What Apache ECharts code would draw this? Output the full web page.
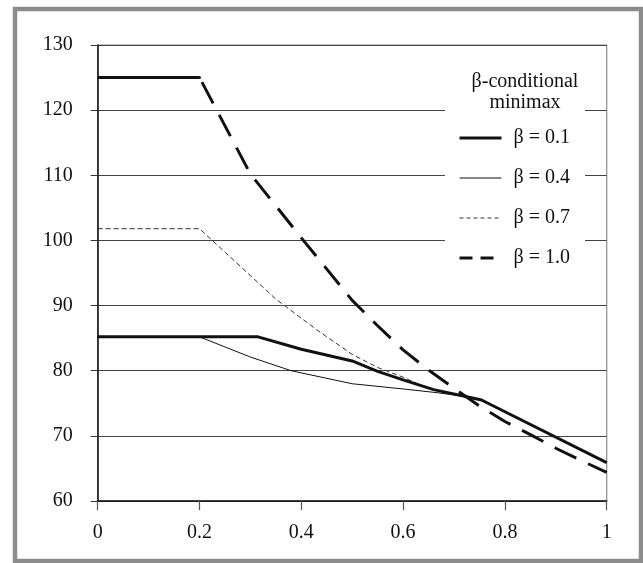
<!DOCTYPE html>
<html>
<head>
<meta charset="utf-8">
<script src="https://cdn.jsdelivr.net/npm/echarts@6/dist/echarts.min.js"></script>
<style>
html,body{margin:0;padding:0;background:#fff;}
#c{width:643px;height:563px;}
</style>
</head>
<body>
<div id="c"></div>
<script>
var seriesNames = ['β = 0.1', 'β = 0.4', 'β = 0.7', 'β = 1.0'];
var xTicks = [0, 0.2, 0.4, 0.6, 0.8, 1];
var yTicks = [60, 70, 80, 90, 100, 110, 120, 130];

var b01x = [0, 0.315, 0.4, 0.5, 0.55, 0.6, 0.66, 0.725, 0.754, 1];
var b01y = [85.2, 85.2, 83.3, 81.5, 79.9, 78.6, 77.1, 76.0, 75.5, 65.9];

var b04x = [0, 0.2, 0.3, 0.38, 0.5, 0.6, 0.67, 0.725, 0.754, 1];
var b04y = [85.2, 85.2, 82.1, 80.0, 78.0, 77.2, 76.6, 76.0, 75.5, 65.9];

var b07x = [0, 0.2, 0.35, 0.43, 0.5, 0.55, 0.6, 0.64, 0.66, 0.725, 0.754, 1];
var b07y = [101.8, 101.8, 91.0, 86.3, 82.5, 80.5, 79.0, 77.6, 77.1, 76.0, 75.5, 65.9];

var b10x = [0, 0.2, 0.3, 0.4, 0.5, 0.55, 0.6, 0.65, 0.7, 0.75, 0.8, 0.85, 0.9, 0.95, 1];
var b10y = [125, 125, 110.2, 100.4, 90.8, 86.9, 83.2, 80.1, 77.3, 74.6, 72.2, 70.2, 68.1, 66.2, 64.4];

function zip(xs, ys) { return xs.map(function (x, i) { return [x, ys[i]]; }); }

// dash pattern for the β = 1.0 curve: solid plateau, then long dashes
var longDash = [103, 4];
for (var k = 0; k < 20; k++) { longDash.push(24, 13); }

var FONT = 'Liberation Serif, Times New Roman, serif';
var chart = echarts.init(document.getElementById('c'), null, {renderer: 'canvas'});
chart.setOption({
  backgroundColor: '#fff',
  animation: false,
  grid: {left: 97.7, right: 36.3, top: 45, bottom: 62, show: true, borderColor: '#8a8a8a', borderWidth: 1.2},
  xAxis: {
    type: 'value', min: xTicks[0], max: xTicks[xTicks.length - 1], interval: 0.2,
    axisLine: {lineStyle: {color: '#111', width: 1.5}},
    axisTick: {show: true, length: 9, lineStyle: {color: '#555', width: 1.2}},
    splitLine: {show: false},
    axisLabel: {color: '#111', fontFamily: FONT, fontSize: 20, margin: 22,
      formatter: function (v) { return String(Math.round(v * 10) / 10); }}
  },
  yAxis: {
    type: 'value', min: yTicks[0], max: yTicks[yTicks.length - 1], interval: 10,
    axisLine: {show: true, lineStyle: {color: '#111', width: 1.5}},
    axisTick: {show: true, length: 7, lineStyle: {color: '#333', width: 1}},
    splitLine: {show: true, lineStyle: {color: '#444', width: 1.2}},
    axisLabel: {color: '#111', fontFamily: FONT, fontSize: 20, margin: 25}
  },
  legend: {
    orient: 'vertical', left: 458, top: 128, padding: 0,
    itemWidth: 42, itemHeight: 14, itemGap: 20, z: 20,
    itemStyle: {opacity: 0},
    textStyle: {color: '#111', fontFamily: FONT, fontSize: 20, lineHeight: 20, padding: [0, 0, 0, 7]},
    data: [
      {name: seriesNames[0], itemStyle: {opacity: 0}, lineStyle: {width: 3, type: 'solid', color: '#111'}},
      {name: seriesNames[1], itemStyle: {opacity: 0}, lineStyle: {width: 1, type: 'solid', color: '#111'}},
      {name: seriesNames[2], itemStyle: {opacity: 0}, lineStyle: {width: 1, type: [4, 3], color: '#333'}},
      {name: seriesNames[3], itemStyle: {opacity: 0}, lineStyle: {width: 3, type: [13, 8], color: '#111'}}
    ]
  },
  graphic: [
    {type: 'rect', z: 5, silent: true, shape: {x: 445, y: 62, width: 140, height: 215}, style: {fill: '#fff'}},
    {type: 'text', z: 21, silent: true, style: {text: 'β-conditional\nminimax', x: 525, y: 71,
      textAlign: 'center', textVerticalAlign: 'top', fontFamily: FONT, fontSize: 20, lineHeight: 21, fill: '#111'}},
    {type: 'rect', z: 30, silent: true, shape: {x: 15, y: 9, width: 626, height: 552},
      style: {fill: 'none', stroke: '#8c8c8c', lineWidth: 4.5}}
  ],
  series: [
    {name: seriesNames[0], type: 'line', symbol: 'none', z: 6, data: zip(b01x, b01y),
      lineStyle: {width: 3, color: '#111', type: 'solid'}, itemStyle: {color: '#111'}},
    {name: seriesNames[1], type: 'line', symbol: 'none', z: 3, data: zip(b04x, b04y),
      lineStyle: {width: 1, color: '#111', type: 'solid'}, itemStyle: {color: '#111'}},
    {name: seriesNames[2], type: 'line', symbol: 'none', z: 3, data: zip(b07x, b07y),
      lineStyle: {width: 1, color: '#333', type: [5, 3]}, itemStyle: {color: '#333'}},
    {name: seriesNames[3], type: 'line', symbol: 'none', z: 4, data: zip(b10x, b10y),
      lineStyle: {width: 3, color: '#111', type: longDash}, itemStyle: {color: '#111'}}
  ]
});
</script>
</body>
</html>
